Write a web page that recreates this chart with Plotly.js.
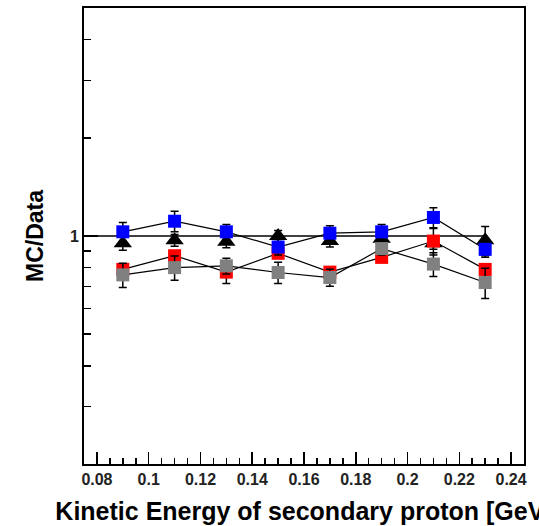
<!DOCTYPE html>
<html>
<head>
<meta charset="utf-8">
<script src="https://cdn.plot.ly/plotly-3.0.1.min.js"></script>
<style>html,body{margin:0;padding:0;background:#fff;}#chart{width:539px;height:526px;}</style>
</head>
<body>
<div id="chart"></div>
<script>
// Kinetic energy bin centres (GeV)
const energy = [0.09, 0.11, 0.13, 0.15, 0.17, 0.19, 0.21, 0.23];

// MC/Data ratios
const blackRatio = [0.95, 0.97, 0.96, 1.00, 0.965, 0.98, 0.95, 0.97];
const blackErr   = [0.045, 0.04, 0.04, 0.04, 0.04, 0.04, 0.04, 0.10];
const redRatio   = [0.79, 0.87, 0.775, 0.885, 0.775, 0.86, 0.965, 0.79];
const redErr     = [0.03, 0.03, 0.06, 0.03, 0.03, 0.03, 0.09, 0.03];
const grayRatio  = [0.76, 0.80, 0.81, 0.773, 0.746, 0.915, 0.82, 0.72];
const grayErr    = [0.065, 0.068, 0.045, 0.058, 0.045, 0.04, 0.069, 0.077];
const blueRatio  = [1.03, 1.11, 1.03, 0.925, 1.02, 1.03, 1.14, 0.91];
const blueErr    = [0.07, 0.08, 0.055, 0.05, 0.055, 0.055, 0.08, 0.05];

// Reference line MC/Data = 1
const refX = [0.075, 0.23];
const refY = [1, 1];

// Axis ticks
const xTickVals = [0.08, 0.10, 0.12, 0.14, 0.16, 0.18, 0.20, 0.22, 0.24];
const xTickText = ['0.08', '0.1', '0.12', '0.14', '0.16', '0.18', '0.2', '0.22', '0.24'];
const yTickVals = [1];
const yTickText = ['1'];
const yMinorVals = [0.3, 0.4, 0.5, 0.6, 0.7, 0.8, 0.9, 2, 3, 4];

function series(y, err, color, symbol, size, withLine) {
  return {
    x: energy, y: y, type: 'scatter',
    mode: withLine ? 'lines+markers' : 'markers',
    line: {color: '#000', width: 1.2},
    marker: {color: color, symbol: symbol, size: size, line: {width: 0}},
    error_y: {type: 'data', array: err, visible: true, color: '#000', thickness: 1.5, width: 4},
    showlegend: false, cliponaxis: true
  };
}

const traces = [
  {x: refX, y: refY, type: 'scatter', mode: 'lines', line: {color: '#000', width: 1.5}, showlegend: false},
  series(blackRatio, blackErr, '#000000', 'triangle-up', 16, false),
  series(redRatio, redErr, '#ff0000', 'square', 13, true),
  series(grayRatio, grayErr, '#808080', 'square', 13, true),
  series(blueRatio, blueErr, '#0000ff', 'square', 13, true)
];

const fontFam = '"Liberation Sans", Arial, Helvetica, sans-serif';

const layout = {
  width: 539, height: 526,
  margin: {l: 84, r: 15, t: 8, b: 62, pad: 0},
  paper_bgcolor: '#fff', plot_bgcolor: '#fff',
  showlegend: false,
  font: {family: fontFam, color: '#000'},
  xaxis: {
    range: [0.075, 0.245],
    tickmode: 'array', tickvals: xTickVals, ticktext: xTickText,
    ticks: 'inside', ticklen: 12, tickwidth: 1.5, tickcolor: '#000',
    minor: {dtick: 0.005, tick0: 0.08, ticks: 'inside', ticklen: 6, tickwidth: 1.5, tickcolor: '#000', showgrid: false},
    showline: true, mirror: true, linecolor: '#000', linewidth: 2,
    showgrid: false, zeroline: false,
    tickfont: {family: fontFam, size: 16, weight: 'bold', color: '#222'},
    title: {text: 'Kinetic Energy of secondary proton [GeV]', font: {family: fontFam, size: 25, weight: 'bold', color: '#000'}, standoff: 15}
  },
  yaxis: {
    type: 'log',
    range: [Math.log10(0.2), Math.log10(5)],
    tickmode: 'array', tickvals: yTickVals, ticktext: yTickText,
    ticks: 'inside', ticklen: 14, tickwidth: 1.5, tickcolor: '#000',
    minor: {tickmode: 'array', tickvals: yMinorVals, ticks: 'inside', ticklen: 7, tickwidth: 1.5, tickcolor: '#000', showgrid: false},
    showline: true, mirror: true, linecolor: '#000', linewidth: 2,
    showgrid: false, zeroline: false,
    tickfont: {family: fontFam, size: 16, weight: 'bold', color: '#222'},
    title: {text: 'MC/Data', font: {family: fontFam, size: 23, weight: 'bold', color: '#000'}, standoff: 20}
  }
};

Plotly.newPlot('chart', traces, layout, {staticPlot: true, displayModeBar: false});
</script>
</body>
</html>
